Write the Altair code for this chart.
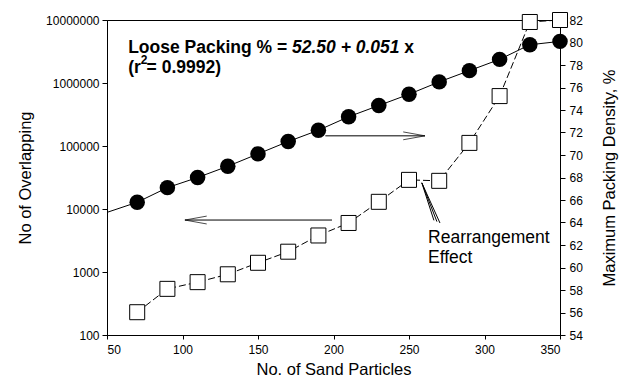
import altair as alt
import pandas as pd

# ---- data ----
particles = [70, 90, 110, 130, 150, 170, 190, 210, 230, 250, 270, 290, 310, 330, 350]
overlaps = [230, 540, 690, 920, 1400, 2100, 3800, 6000, 13000, 29000, 28000, 112000, 620000, 9300000, 10000000]
density = [65.8, 67.1, 68.0, 69.0, 70.1, 71.2, 72.2, 73.4, 74.4, 75.4, 76.5, 77.5, 78.5, 79.8, 80.1]
fit_start_x = [50]
fit_start_y = [64.9]

x_ticks = [50, 100, 150, 200, 250, 300, 350]
left_ticks = [100, 1000, 10000, 100000, 1000000, 10000000]
right_ticks = [54, 56, 58, 60, 62, 64, 66, 68, 70, 72, 74, 76, 78, 80, 82]

# annotation texts (data coordinates: x, y on the left log axis)
formula_parts = [
    {"x": 64, "y": 3600000, "t": "Loose Packing % = ", "style": "normal"},
    {"x": 172.5, "y": 3600000, "t": "52.50 + 0.051", "style": "italic"},
    {"x": 246.9, "y": 3600000, "t": "x", "style": "normal"},
]
r2_parts = [
    {"x": 64, "y": 1760000, "t": "(r"},
    {"x": 76.2, "y": 1760000, "t": "= 0.9992)"},
]
r2_sup = [{"x": 72.3, "y": 2350000, "t": "2"}]
effect_text = [{"x": 262.6, "y": 3470, "t": "Rearrangement"},
               {"x": 262.6, "y": 1670, "t": "Effect"}]
arrow_right = {"x": 194.6, "x2": 260.6, "y": 145000}
arrow_left = {"x": 199.0, "x2": 101.6, "y": 6680}
pointer_x = [266.5, 268.5, 270.5]
pointer_y = [6600, 6300, 6000]
pointer_tip = (258.5, 26000)

FONT = "Liberation Sans"
BLACK = "black"

df = pd.DataFrame({"particles": particles, "overlaps": overlaps, "density": density})
line_df = pd.DataFrame({"particles": fit_start_x + particles, "density": fit_start_y + density})

x_scale = alt.Scale(domain=[50, 350], nice=False, zero=False)
x_axis = alt.Axis(values=x_ticks, title="No. of Sand Particles", grid=False, tickSize=4,
                  labelFontSize=12, titleFontSize=16.5, titleFontWeight="normal",
                  labelFont=FONT, titleFont=FONT, titlePadding=6, labelPadding=5,
                  domainColor=BLACK, tickColor=BLACK, labelColor=BLACK, titleColor=BLACK)
left_scale = alt.Scale(type="log", domain=[100, 10000000], nice=False)
right_scale = alt.Scale(domain=[54, 82], nice=False, zero=False)

X = alt.X("particles:Q", scale=x_scale, axis=x_axis)

left_axis = alt.Axis(orient="left", values=left_ticks, format="d", title="No  of Overlapping",
                     grid=False, tickSize=5, labelFontSize=12, titleFontSize=16.5,
                     titleFontWeight="normal", labelFont=FONT, titleFont=FONT,
                     titlePadding=12, labelPadding=3,
                     domainColor=BLACK, tickColor=BLACK, labelColor=BLACK, titleColor=BLACK)
right_axis = alt.Axis(orient="right", values=right_ticks, title="Maximum Packing Density, %",
                      grid=False, tickSize=5, labelFontSize=12, titleFontSize=16.5,
                      titleFontWeight="normal", labelFont=FONT, titleFont=FONT,
                      titlePadding=19, labelPadding=4, titleAngle=270, titleBaseline="top",
                      domainColor=BLACK, tickColor=BLACK, labelColor=BLACK, titleColor=BLACK)

base = alt.Chart(df)

sq_line = base.mark_line(color=BLACK, strokeWidth=1, strokeDash=[7, 3]).encode(
    x=X, y=alt.Y("overlaps:Q", scale=left_scale, axis=left_axis))
sq_pts = base.mark_point(shape="square", size=225, filled=True, fill="white",
                         stroke=BLACK, strokeWidth=1, opacity=1).encode(
    x=X, y=alt.Y("overlaps:Q", scale=left_scale, axis=left_axis))

def tx():
    return dict(x=alt.X("x:Q", scale=x_scale), y=alt.Y("y:Q", scale=left_scale), text="t:N")

form_df = pd.DataFrame(formula_parts)
f_up = alt.Chart(form_df[form_df["style"] == "normal"]).mark_text(
    align="left", baseline="middle", fontSize=17.5, fontWeight="bold", font=FONT, color=BLACK
).encode(**tx())
f_it = alt.Chart(form_df[form_df["style"] == "italic"]).mark_text(
    align="left", baseline="middle", fontSize=17.5, fontWeight="bold", fontStyle="italic",
    font=FONT, color=BLACK).encode(**tx())
r2 = alt.Chart(pd.DataFrame(r2_parts)).mark_text(
    align="left", baseline="middle", fontSize=17.5, fontWeight="bold", font=FONT, color=BLACK
).encode(**tx())
r2s = alt.Chart(pd.DataFrame(r2_sup)).mark_text(
    align="left", baseline="middle", fontSize=12, fontWeight="bold", font=FONT, color=BLACK
).encode(**tx())
eff = alt.Chart(pd.DataFrame(effect_text)).mark_text(
    align="left", baseline="middle", fontSize=17.5, font=FONT, color=BLACK).encode(**tx())

arr_df = pd.DataFrame([arrow_right, arrow_left])
arr_rules = alt.Chart(arr_df).mark_rule(color=BLACK, strokeWidth=1).encode(
    x=alt.X("x:Q", scale=x_scale), x2="x2:Q", y=alt.Y("y:Q", scale=left_scale))
head_r = alt.Chart(pd.DataFrame([arrow_right])).mark_point(
    shape="M -1 -0.18 L 0 0 L -1 0.18", size=1900, filled=False, stroke=BLACK, strokeWidth=1).encode(
    x=alt.X("x2:Q", scale=x_scale), y=alt.Y("y:Q", scale=left_scale))
head_l = alt.Chart(pd.DataFrame([arrow_left])).mark_point(
    shape="M 1 -0.18 L 0 0 L 1 0.18", size=1900, filled=False, stroke=BLACK, strokeWidth=1).encode(
    x=alt.X("x2:Q", scale=x_scale), y=alt.Y("y:Q", scale=left_scale))

ptr_df = pd.DataFrame({"x": pointer_x, "y": pointer_y,
                       "x2": [pointer_tip[0]] * 3, "y2": [pointer_tip[1]] * 3})
ptr = alt.Chart(ptr_df).mark_rule(color=BLACK, strokeWidth=1).encode(
    x=alt.X("x:Q", scale=x_scale), y=alt.Y("y:Q", scale=left_scale), x2="x2:Q", y2="y2:Q")

left_group = alt.layer(sq_line, sq_pts, f_up, f_it, r2, r2s, eff, arr_rules, head_r, head_l, ptr)

c_line = alt.Chart(line_df).mark_line(color=BLACK, strokeWidth=1).encode(
    x=X, y=alt.Y("density:Q", scale=right_scale, axis=right_axis))
c_pts = base.mark_circle(size=240, color=BLACK, opacity=1).encode(
    x=X, y=alt.Y("density:Q", scale=right_scale, axis=right_axis))
right_group = alt.layer(c_line, c_pts)

chart = alt.layer(left_group, right_group).resolve_scale(y="independent").properties(
    width=453, height=315, autosize=alt.AutoSizeParams(type="none"),
    padding={"left": 99, "top": 12, "right": 62, "bottom": 44},
    background="white"
).configure_view(stroke=BLACK, strokeWidth=1)

chart.save("out.html", embed_options={"renderer": "svg", "actions": False})
